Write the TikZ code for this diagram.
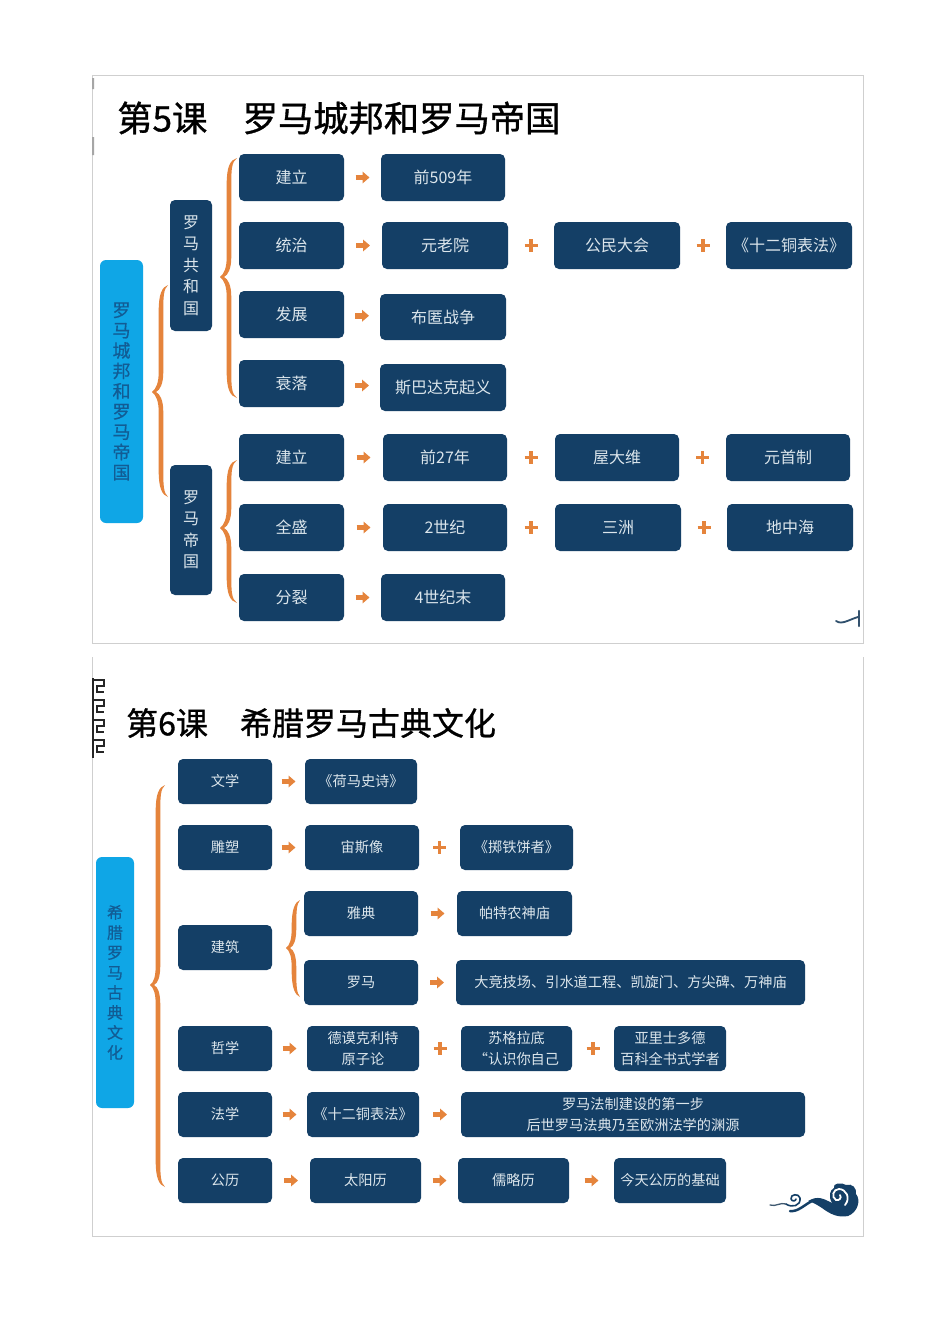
\documentclass[tikz,border=0pt]{standalone}
\usepackage{fontspec}
\setmainfont{Noto Sans CJK SC}
\usetikzlibrary{calc,arrows.meta}
\definecolor{navy}{HTML}{143F66}
\definecolor{skyb}{HTML}{0FA6E6}
\definecolor{orng}{HTML}{E5843C}
\definecolor{boxtxt}{HTML}{DCE6EC}
\definecolor{skytxt}{HTML}{125C94}
\definecolor{framec}{HTML}{CFCFCF}
\tikzset{
  bxA/.style={fill=navy,rounded corners=5pt,inner sep=0pt,text=boxtxt,align=center,font=\fontsize{16}{21}\selectfont},
  bxB/.style={bxA,font=\fontsize{14.2}{21}\selectfont},
  sidebox/.style={fill=navy,rounded corners=5pt,inner sep=0pt,text=boxtxt,align=center,font=\fontsize{16}{21.5}\selectfont},
  mainA/.style={fill=skyb,rounded corners=6pt,inner sep=0pt,text=skytxt,align=center,font=\fontsize{18}{20.3}\selectfont\addfontfeature{FakeBold=0.5}},
  mainB/.style={fill=skyb,rounded corners=6pt,inner sep=0pt,text=skytxt,align=center,font=\fontsize{16}{20}\selectfont\addfontfeature{FakeBold=0.5}},
  titleA/.style={anchor=west,inner sep=0pt,text=black,font=\fontsize{35.3}{40}\selectfont\addfontfeature{FakeBold=1}},
  titleB/.style={anchor=west,inner sep=0pt,text=black,font=\fontsize{32}{38}\selectfont\addfontfeature{FakeBold=1}},
  arrowline/.style={draw=orng,line width=5.5pt,-{Triangle[length=7pt,width=11.5pt]}},
  plusline/.style={draw=orng,line width=3.8pt},
  frameline/.style={draw=framec,line width=0.8pt},
  cloud/.style={draw=navy,line cap=round,line join=round},
}
\newcommand\bxN[7]{\node[#1,minimum width={(#5-#3)*1pt},minimum height={(#6-#4)*1pt}] (#2) at ({(#3+#5)/2},{(#4+#6)/2}) {#7};}
\newcommand\arrN[2]{\draw[arrowline] ($(#1.east)!.5!(#2.west)+(-7,0)$) -- ($(#1.east)!.5!(#2.west)+(7,0)$);}
\newcommand\plusN[2]{\draw[plusline] ($(#1.east)!.5!(#2.west)+(-6.5,0)$) -- ($(#1.east)!.5!(#2.west)+(6.5,0)$) ($(#1.east)!.5!(#2.west)+(0,-6.5)$) -- ($(#1.east)!.5!(#2.west)+(0,6.5)$);}
% end x, stem x, tip x, top y, tip y, bottom y
\newcommand\bracketN[6]{\fill[orng]
  (#1,#4) .. controls ({#2+1},{#4+2}) and ({#2-2.3},{#4+9}) .. ({#2-2.3},{#4+26})
  -- ({#2-2.3},{#5-20}) .. controls ({#2-2.3},{#5-9}) and ({#3+4},{#5-3}) .. (#3,#5)
  .. controls ({#3+4},{#5+3}) and ({#2-2.3},{#5+9}) .. ({#2-2.3},{#5+20})
  -- ({#2-2.3},{#6-26}) .. controls ({#2-2.3},{#6-9}) and ({#2+1},{#6-2}) .. (#1,#6)
  .. controls ({#2+2.5},{#6-4}) and ({#2+2.3},{#6-12}) .. ({#2+2.3},{#6-26})
  -- ({#2+2.3},{#5+20}) .. controls ({#2+2.3},{#5+8}) and ({#3+8},{#5+2}) .. ({#3+4},#5)
  .. controls ({#3+8},{#5-2}) and ({#2+2.3},{#5-8}) .. ({#2+2.3},{#5-20})
  -- ({#2+2.3},{#4+26}) .. controls ({#2+2.3},{#4+12}) and ({#2+2.5},{#4+4}) .. (#1,#4) -- cycle;}
\begin{document}
\begin{tikzpicture}[x=1pt,y=-1pt]
\useasboundingbox (0,0) rectangle (950,1344);
\fill[white] (0,0) rectangle (950,1344);
% frames
\draw[frameline] (92,75) rectangle (863,643);
\draw[frameline] (92,657) -- (92,1236) -- (863,1236) -- (863,657);
\fill[gray!70] (92,78) rectangle (94,89) (92,137) rectangle (94,155);
% slide 1
\node[titleA] (t5) at (117,118) {第5课　罗马城邦和罗马帝国};
\bxN{mainA}{m1}{100}{260}{143}{523}{罗\\马\\城\\邦\\和\\罗\\马\\帝\\国}
\bxN{sidebox}{s1}{170}{200}{212}{331}{罗\\马\\共\\和\\国}
\bxN{sidebox}{s2}{170}{465}{212}{595}{罗\\马\\帝\\国}
\bracketN{168}{161}{152}{285}{392}{497}
\bracketN{237}{229}{220}{158}{277}{398}
\bracketN{237}{229}{220}{460}{528}{603}
\bxN{bxA}{a1}{239}{154}{344}{201}{建立}
\bxN{bxA}{a2}{381}{154}{505}{201}{前509年}
\bxN{bxA}{b1}{239}{222}{344}{269}{统治}
\bxN{bxA}{b2}{382}{222}{508}{269}{元老院}
\bxN{bxA}{b3}{554}{222}{680}{269}{公民大会}
\bxN{bxA}{b4}{726}{222}{852}{269}{《十二铜表法》}
\bxN{bxA}{c1}{239}{291}{344}{338}{发展}
\bxN{bxA}{c2}{380}{294}{506}{340}{布匿战争}
\bxN{bxA}{d1}{239}{360}{344}{407}{衰落}
\bxN{bxA}{d2}{380}{364}{506}{411}{斯巴达克起义}
\bxN{bxA}{e1}{239}{434}{344}{481}{建立}
\bxN{bxA}{e2}{383}{434}{507}{481}{前27年}
\bxN{bxA}{e3}{555}{434}{679}{481}{屋大维}
\bxN{bxA}{e4}{726}{434}{850}{481}{元首制}
\bxN{bxA}{f1}{239}{504}{344}{551}{全盛}
\bxN{bxA}{f2}{383}{504}{507}{551}{2世纪}
\bxN{bxA}{f3}{555}{504}{681}{551}{三洲}
\bxN{bxA}{f4}{727}{504}{853}{551}{地中海}
\bxN{bxA}{g1}{239}{574}{344}{621}{分裂}
\bxN{bxA}{g2}{381}{574}{505}{621}{4世纪末}
\arrN{a1}{a2}
\arrN{b1}{b2} \plusN{b2}{b3} \plusN{b3}{b4}
\arrN{c1}{c2}
\arrN{d1}{d2}
\arrN{e1}{e2} \plusN{e2}{e3} \plusN{e3}{e4}
\arrN{f1}{f2} \plusN{f2}{f3} \plusN{f3}{f4}
\arrN{g1}{g2}
% small cloud fragment, slide 1
\draw[cloud,draw=navy!75!gray,line width=1.8pt] (836,621) .. controls (842,625) and (848,620) .. (858,617);
\draw[cloud,draw=navy!70!gray,line width=2.4pt] (859,611) -- (859,626);
% slide 2
\node[titleB] (t6) at (126,723) {第6课　希腊罗马古典文化};
% meander ornament
\foreach \yy in {680,700,720,740}{
  \draw[black!85,line width=1.3pt] (93,\yy) -- (104,\yy) -- (104,{\yy+6}) -- (97,{\yy+6}) -- (97,{\yy+12}) -- (104,{\yy+12});
}
\draw[black!85,line width=2pt] (93,678) -- (93,758);
\bxN{mainB}{m2}{96}{857}{134}{1108}{希\\腊\\罗\\马\\古\\典\\文\\化}
\bracketN{165}{158}{150}{785}{985}{1187}
\bracketN{300}{294}{286}{900}{948}{997}
\bxN{bxB}{h1}{178}{759}{272}{804}{文学}
\bxN{bxB}{h2}{305}{759}{417}{804}{《荷马史诗》}
\bxN{bxB}{i1}{178}{825}{272}{870}{雕塑}
\bxN{bxB}{i2}{305}{825}{419}{870}{宙斯像}
\bxN{bxB}{i3}{460}{825}{573}{870}{《掷铁饼者》}
\bxN{bxB}{j0}{178}{925}{272}{970}{建筑}
\bxN{bxB}{j1}{304}{891}{418}{936}{雅典}
\bxN{bxB}{j2}{457}{891}{572}{936}{帕特农神庙}
\bxN{bxB}{k1}{304}{960}{418}{1005}{罗马}
\bxN{bxB}{k2}{456}{960}{805}{1005}{大竞技场、引水道工程、凯旋门、方尖碑、万神庙}
\bxN{bxB}{l1}{178}{1026}{272}{1071}{哲学}
\bxN{bxB}{l2}{307}{1026}{419}{1071}{德谟克利特\\原子论}
\bxN{bxB}{l3}{461}{1026}{572}{1071}{苏格拉底\\“认识你自己}
\bxN{bxB}{l4}{614}{1026}{726}{1071}{亚里士多德\\百科全书式学者}
\bxN{bxB}{n1}{178}{1092}{272}{1137}{法学}
\bxN{bxB}{n2}{307}{1092}{419}{1137}{《十二铜表法》}
\bxN{bxB}{n3}{461}{1092}{805}{1137}{罗马法制建设的第一步\\后世罗马法典乃至欧洲法学的渊源}
\bxN{bxB}{o1}{178}{1158}{272}{1203}{公历}
\bxN{bxB}{o2}{310}{1158}{421}{1203}{太阳历}
\bxN{bxB}{o3}{458}{1158}{569}{1203}{儒略历}
\bxN{bxB}{o4}{614}{1158}{726}{1203}{今天公历的基础}
\arrN{h1}{h2}
\arrN{i1}{i2} \plusN{i2}{i3}
\arrN{j1}{j2}
\arrN{k1}{k2}
\arrN{l1}{l2} \plusN{l2}{l3} \plusN{l3}{l4}
\arrN{n1}{n2} \arrN{n2}{n3}
\arrN{o1}{o2} \arrN{o2}{o3} \arrN{o3}{o4}
% cloud ornament, slide 2
\draw[cloud,draw=navy!60!gray,line width=1.3pt] (770,1205) .. controls (776,1207) and (780,1202) .. (786,1204);
\draw[cloud,line width=1.6pt] (786,1204) .. controls (792,1208) and (801,1206) .. (800,1198) .. controls (799,1193) and (790,1194) .. (791,1199) .. controls (792,1202) and (796,1201) .. (796,1199);
\draw[cloud,line width=2.5pt] (790,1211) .. controls (798,1212) and (804,1205) .. (812,1201);
\fill[navy] (808,1201) .. controls (818,1195) and (824,1199) .. (832,1203)
  .. controls (828,1196) and (830,1190) .. (834,1188)
  .. controls (832,1183) and (842,1182) .. (846,1185)
  .. controls (852,1183) and (857,1188) .. (856,1194)
  .. controls (861,1200) and (858,1212) .. (848,1216)
  .. controls (838,1218) and (830,1214) .. (822,1208)
  .. controls (816,1204) and (812,1202) .. (808,1201) -- cycle;
\draw[white,line width=1.8pt,line cap=round] (845,1205) .. controls (851,1198) and (846,1189) .. (839,1189)
  .. controls (833,1189) and (831,1197) .. (836,1200) .. controls (839,1201) and (842,1198) .. (840,1195);
\end{tikzpicture}
\end{document}
